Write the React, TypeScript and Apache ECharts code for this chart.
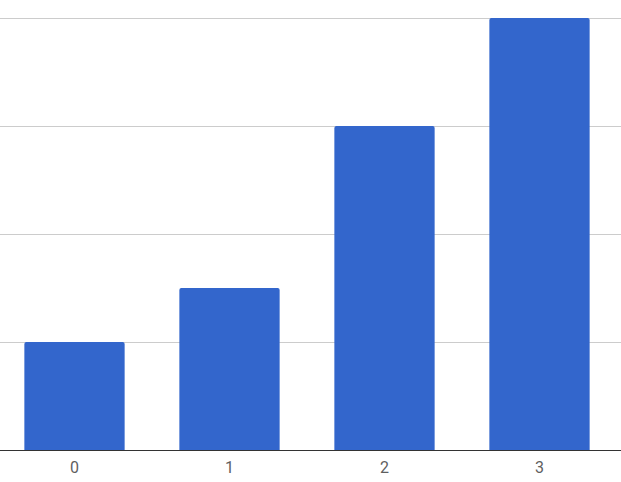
import React, { useEffect, useRef } from "react";
import * as echarts from "echarts";

const categories = ["0", "1", "2", "3"];
const values = [1, 1.5, 3, 4];
const yMin = 0;
const yMax = 4;
const yInterval = 1;

export default function App() {
  const ref = useRef<HTMLDivElement>(null);
  useEffect(() => {
    if (!ref.current) return;
    const chart = echarts.init(ref.current, undefined, { renderer: "svg" });
    chart.setOption({
      animation: false,
      grid: [
        { left: 0, top: 18, width: 620, bottom: 32, containLabel: false },
        { left: 3, top: 18, right: 0, bottom: 32, containLabel: false },
      ],
      xAxis: [
        {
          type: "category",
          gridIndex: 0,
          data: categories,
          axisLine: { show: false },
          axisTick: { show: false },
          axisLabel: {
            color: "#5f5f5f",
            fontFamily: "Roboto",
            fontSize: 16,
            margin: 9,
          },
        },
        {
          type: "value",
          gridIndex: 1,
          show: true,
          min: 0,
          max: 1,
          axisLine: { show: true, lineStyle: { color: "#333333", width: 1 } },
          axisTick: { show: false },
          axisLabel: { show: false },
          splitLine: { show: false },
        },
      ],
      yAxis: [
        {
          type: "value",
          gridIndex: 0,
          min: yMin,
          max: yMax,
          interval: yInterval,
          show: false,
          splitLine: { show: false },
        },
        {
          type: "value",
          gridIndex: 1,
          min: yMin,
          max: yMax,
          interval: yInterval,
          axisLine: { show: false },
          axisTick: { show: false },
          axisLabel: { show: false },
          splitLine: { show: true, lineStyle: { color: "#cccccc", width: 1 } },
        },
      ],
      series: [
        {
          type: "bar",
          xAxisIndex: 0,
          yAxisIndex: 0,
          data: values,
          barWidth: "64.7%",
          itemStyle: { color: "#3366cc", borderRadius: [2, 2, 0, 0] },
          z: 3,
        },
      ],
    });
    return () => chart.dispose();
  }, []);
  return (
    <div
      ref={ref}
      style={{ position: "absolute", left: -3, top: 0, width: 624, height: 482 }}
    />
  );
}
